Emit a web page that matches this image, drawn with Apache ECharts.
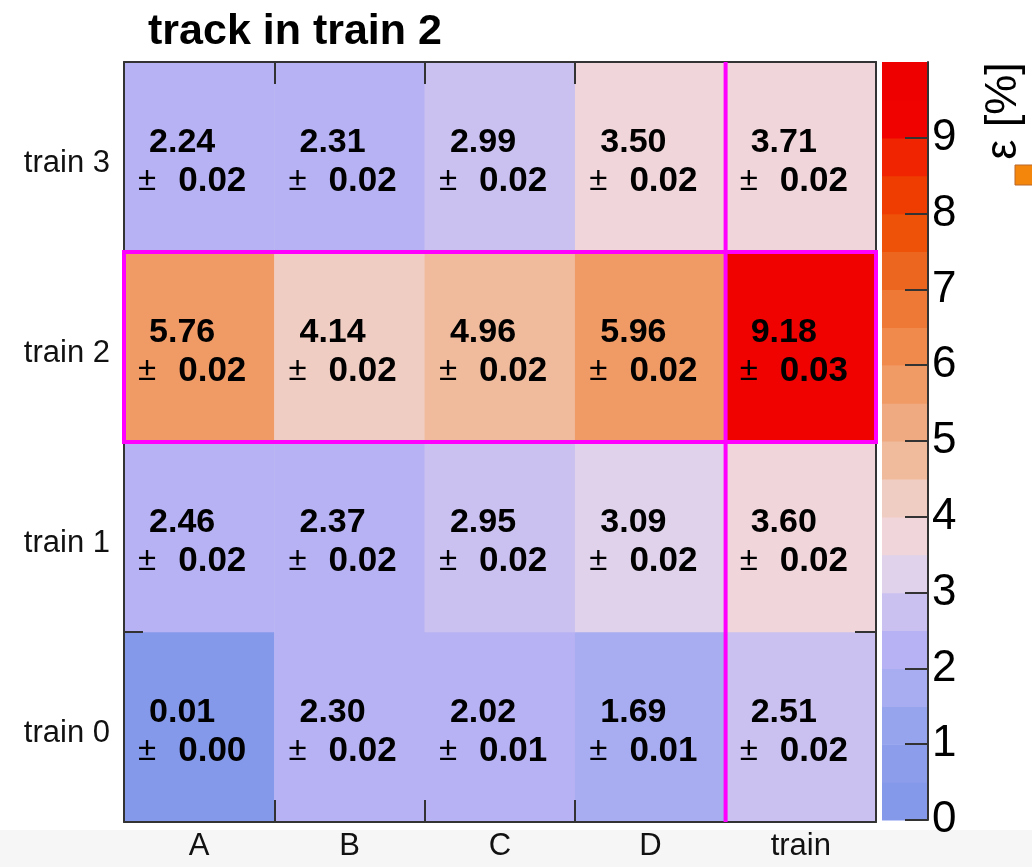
<!DOCTYPE html>
<html>
<head>
<meta charset="utf-8">
<script src="https://cdn.jsdelivr.net/npm/echarts@6/dist/echarts.min.js"></script>
<style>
  html, body { margin: 0; padding: 0; background: #ffffff; }
  #chart { width: 1032px; height: 867px; }
</style>
</head>
<body>
<div id="chart"></div>
<script>
// Categories
const columns = ['A', 'B', 'C', 'D', 'train'];
const rows = ['train 0', 'train 1', 'train 2', 'train 3'];

// Efficiency (%) and its uncertainty, one array per row
const effTrain0 = [0.01, 2.30, 2.02, 1.69, 2.51];
const errTrain0 = [0.00, 0.02, 0.01, 0.01, 0.02];
const effTrain1 = [2.46, 2.37, 2.95, 3.09, 3.60];
const errTrain1 = [0.02, 0.02, 0.02, 0.02, 0.02];
const effTrain2 = [5.76, 4.14, 4.96, 5.96, 9.18];
const errTrain2 = [0.02, 0.02, 0.02, 0.02, 0.03];
const effTrain3 = [2.24, 2.31, 2.99, 3.50, 3.71];
const errTrain3 = [0.02, 0.02, 0.02, 0.02, 0.02];

// Highlighted row and the column whose left edge is marked
const highlightRow = 'train 2';
const highlightColumn = 'train';

// Colour scale: tick labels and 20 bands of 0.5 from 0 to 10
const scaleTicks = [0, 1, 2, 3, 4, 5, 6, 7, 8, 9];
const scaleMin = 0;
const scaleMax = 10;
const bandColors = [
  '#8599eb', '#8c9dec', '#96a4ee', '#a7adf0', '#b7b2f3',
  '#cac1f1', '#dfd2ea', '#f0d5db', '#f0cdc2', '#efbb9c',
  '#f0aa82', '#f09a65', '#ef894c', '#ee7937', '#ed6620',
  '#ee5208', '#ef3c00', '#f02400', '#ef0200', '#ef0000'
];

const bandStep = (scaleMax - scaleMin) / bandColors.length;
const bands = bandColors.map((c, i) => [scaleMin + i * bandStep, scaleMin + (i + 1) * bandStep]);

const effRows = [effTrain0, effTrain1, effTrain2, effTrain3];
const errRows = [errTrain0, errTrain1, errTrain2, errTrain3];
const cellData = [];
effRows.forEach((vals, r) => {
  vals.forEach((v, c) => cellData.push([c, r, v, errRows[r][c]]));
});

const FONT = '"Liberation Sans", Arial, Helvetica, sans-serif';
const frameColor = '#333333';

const frameAxis = (position, tickLen) => ({
  axisLine: { show: true, onZero: false, lineStyle: { color: frameColor, width: 2 } },
  axisTick: { show: true, inside: true, length: tickLen, interval: 0, lineStyle: { color: frameColor, width: 2 } },
  splitLine: { show: false },
  position: position,
  z: 10
});

const chart = echarts.init(document.getElementById('chart'), null, { renderer: 'canvas' });

const option = {
  animation: false,
  backgroundColor: '#ffffff',
  title: {
    text: 'track in train 2',
    left: 143,
    top: 6,
    textStyle: { fontFamily: FONT, fontWeight: 'bold', fontSize: 43, color: '#000000' }
  },
  grid: [
    { left: 124, top: 62, width: 752, height: 760 },
    { left: 882, top: 62, width: 46, height: 758 }
  ],
  xAxis: [
    Object.assign({
      type: 'category', data: columns, gridIndex: 0,
      axisLabel: { interval: 0, fontFamily: FONT, fontSize: 31, color: '#111111', margin: 9 }
    }, frameAxis('bottom', 22)),
    Object.assign({
      type: 'category', data: columns, gridIndex: 0,
      axisLabel: { show: false }
    }, frameAxis('top', 22)),
    { type: 'value', gridIndex: 1, min: 0, max: 1, show: false }
  ],
  yAxis: [
    Object.assign({
      type: 'category', data: rows, gridIndex: 0,
      axisLabel: {
        interval: 0, margin: 14,
        formatter: v => '{r|' + v + '}',
        rich: { r: { fontFamily: FONT, fontSize: 31, color: '#111111', padding: [12, 0, 0, 0] } }
      }
    }, frameAxis('left', 19)),
    Object.assign({
      type: 'category', data: rows, gridIndex: 0,
      axisLabel: { show: false }
    }, frameAxis('right', 21)),
    {
      type: 'value', gridIndex: 1, min: scaleMin, max: scaleMax, interval: 1,
      position: 'right', z: 10,
      axisLine: { show: true, onZero: false, lineStyle: { color: frameColor, width: 2 } },
      axisTick: { show: true, inside: true, length: 23, customValues: scaleTicks, lineStyle: { color: frameColor, width: 2 } },
      axisLabel: { customValues: scaleTicks, fontFamily: FONT, fontSize: 44, color: '#000000', margin: 4 },
      splitLine: { show: false }
    }
  ],
  visualMap: {
    type: 'piecewise',
    show: false,
    dimension: 2,
    seriesIndex: 0,
    pieces: bands.map((b, i) => ({ gte: b[0], lt: b[1], color: bandColors[i] }))
  },
  graphic: [
    { type: 'rect', z: 0, shape: { x: 0, y: 830, width: 1032, height: 37 }, style: { fill: '#f6f6f6' } },
    {
      type: 'text', z: 5, x: 1004, y: 111, rotation: Math.PI / 2,
      style: { text: 'ε [%]', font: '45px ' + FONT, fill: '#000000', align: 'center', verticalAlign: 'middle' }
    },
    { type: 'rect', z: 5, shape: { x: 1015, y: 165, width: 20, height: 20 }, style: { fill: '#f5860c', stroke: '#b8682a', lineWidth: 1 } }
  ],
  series: [
    {
      type: 'heatmap',
      xAxisIndex: 0,
      yAxisIndex: 0,
      data: cellData,
      itemStyle: { borderWidth: 0 },
      emphasis: { disabled: true },
      label: {
        show: true,
        offset: [-7, 5],
        formatter: p => '{v|' + p.value[2].toFixed(2) + '}\n{pm|±}{e|' + p.value[3].toFixed(2) + '}',
        rich: {
          v: { fontFamily: FONT, fontSize: 34, fontWeight: 'bold', color: '#000000', lineHeight: 38, padding: [0, 0, 0, 11], align: 'left' },
          pm: { fontFamily: FONT, fontSize: 33, fontWeight: 'normal', color: '#000000', lineHeight: 38, align: 'left' },
          e: { fontFamily: FONT, fontSize: 35, fontWeight: 'bold', color: '#000000', lineHeight: 38, padding: [0, 0, 0, 22], align: 'left' }
        }
      }
    },
    {
      // magenta box round the highlighted row and line at the left edge of the highlighted column
      type: 'custom',
      xAxisIndex: 0,
      yAxisIndex: 0,
      z: 20,
      clip: false,
      silent: true,
      data: [[highlightColumn, highlightRow]],
      renderItem: (params, api) => {
        const size = api.size([1, 1]);
        const rowIdx = api.value(1);
        const colIdx = api.value(0);
        const first = api.coord([0, rowIdx]);
        const top = api.coord([0, rows.length - 1])[1] - size[1] / 2;
        const bottom = api.coord([0, 0])[1] + size[1] / 2;
        const xLine = api.coord([colIdx, rowIdx])[0] - size[0] / 2;
        const magenta = '#ff00ff';
        return {
          type: 'group',
          children: [
            {
              type: 'rect',
              shape: { x: first[0] - size[0] / 2, y: first[1] - size[1] / 2, width: size[0] * columns.length, height: size[1] },
              style: { fill: 'none', stroke: magenta, lineWidth: 4 }
            },
            {
              type: 'line',
              shape: { x1: xLine, y1: top, x2: xLine, y2: bottom },
              style: { stroke: magenta, lineWidth: 4 }
            }
          ]
        };
      }
    },
    {
      // colour scale bar
      type: 'custom',
      xAxisIndex: 2,
      yAxisIndex: 2,
      z: 2,
      silent: true,
      data: bands,
      renderItem: (params, api) => {
        const p0 = api.coord([0, api.value(0)]);
        const p1 = api.coord([1, api.value(1)]);
        return {
          type: 'rect',
          shape: { x: p0[0], y: p1[1], width: p1[0] - p0[0], height: p0[1] - p1[1] + 0.6 },
          style: { fill: bandColors[params.dataIndex] }
        };
      }
    }
  ]
};

chart.setOption(option);
</script>
</body>
</html>
